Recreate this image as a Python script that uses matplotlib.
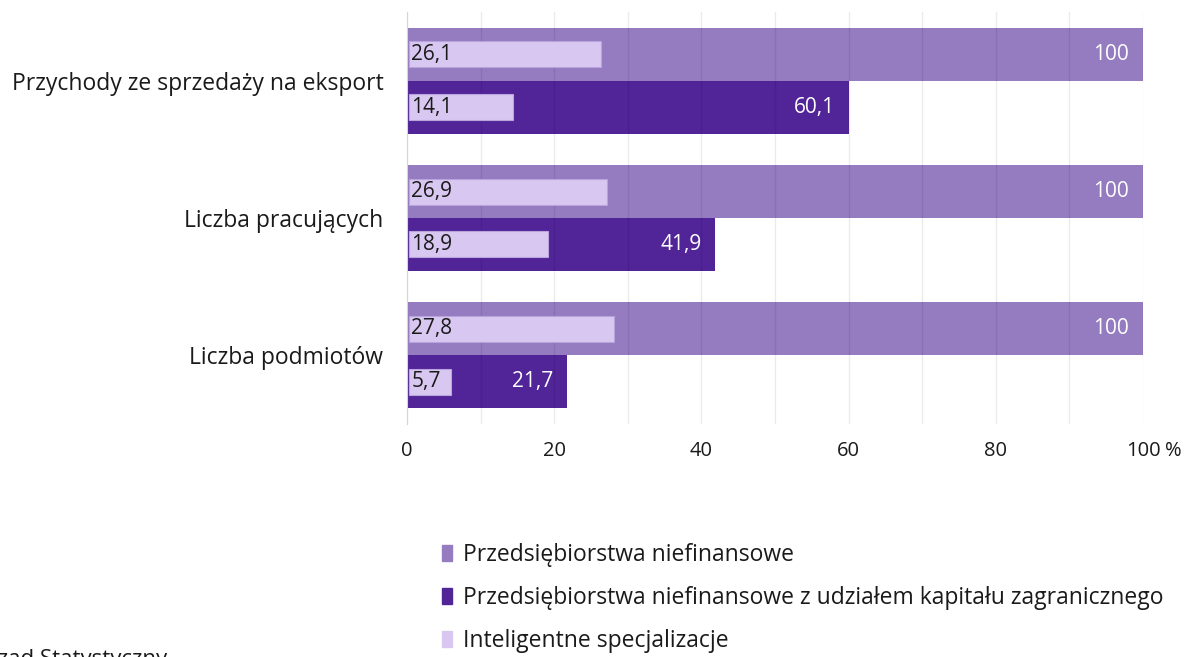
import matplotlib
matplotlib.use("Agg")
import matplotlib.pyplot as plt
from matplotlib.patches import Patch
import numpy as np

plt.rcParams["font.family"] = ["Open Sans", "DejaVu Sans"]

# data
categories = ["Przychody ze sprzedaży na eksport", "Liczba pracujących", "Liczba podmiotów"]
niefinansowe = [100, 100, 100]
zagraniczne = [60.1, 41.9, 21.7]
intel_niefinansowe = [26.1, 26.9, 27.8]
intel_zagraniczne = [14.1, 18.9, 5.7]
x_ticks = [0, 20, 40, 60, 80, 100]
legend_labels = [
    "Przedsiębiorstwa niefinansowe",
    "Przedsiębiorstwa niefinansowe z udziałem kapitału zagranicznego",
    "Inteligentne specjalizacje",
]

C_MID = "#957bc0"
C_DARK = "#512498"
C_LIGHT = "#d8c8f1"
C_LIGHT_EDGE = "#b9a3dc"
TXT = "#1a1a1a"


def fmt(v):
    return f"{v:g}".replace(".", ",")


fig = plt.figure(figsize=(11.89, 6.57), dpi=100)
W, H = 1189, 657
ax = fig.add_axes([407 / W, 1 - 424 / H, (1143 - 407) / W, (424 - 12) / H])

y = np.arange(len(categories))
off = 0.1925
bh = 0.385
lh = 0.19

ax.barh(y - off, niefinansowe, height=bh, color=C_MID, zorder=1)
ax.barh(y + off, zagraniczne, height=bh, color=C_DARK, zorder=1)
ax.barh(y - off, intel_niefinansowe, height=lh, left=0.3, color=C_LIGHT,
        edgecolor=C_LIGHT_EDGE, linewidth=0.8, zorder=3)
ax.barh(y + off, intel_zagraniczne, height=lh, left=0.3, color=C_LIGHT,
        edgecolor=C_LIGHT_EDGE, linewidth=0.8, zorder=3)

for i in range(len(categories)):
    ax.annotate(fmt(niefinansowe[i]), (niefinansowe[i], y[i] - off), xytext=(-10, 0),
                textcoords="offset points", ha="right", va="center",
                color="white", fontsize=15, zorder=4)
    ax.annotate(fmt(zagraniczne[i]), (zagraniczne[i], y[i] + off), xytext=(-10, 0),
                textcoords="offset points", ha="right", va="center",
                color="white", fontsize=15, zorder=4)
    ax.annotate(fmt(intel_niefinansowe[i]), (0, y[i] - off), xytext=(3, 0),
                textcoords="offset points", ha="left", va="center",
                color=TXT, fontsize=15, zorder=4)
    ax.annotate(fmt(intel_zagraniczne[i]), (0, y[i] + off), xytext=(3, 0),
                textcoords="offset points", ha="left", va="center",
                color=TXT, fontsize=15, zorder=4)

ax.set_xlim(0, 100)
ax.set_ylim(2.5, -0.5)
ax.set_xticks(x_ticks)
ax.set_xticklabels([str(t) for t in x_ticks])
ax.set_xticks(np.arange(10, 100, 20), minor=True)
ax.set_yticks(y)
ax.set_yticklabels(categories)
ax.tick_params(axis="x", which="both", length=0, pad=12, labelsize=14.5, colors=TXT)
ax.tick_params(axis="y", length=0, pad=17, labelsize=16.5, colors=TXT)
ax.annotate("%", (100, 0), xycoords=("data", "axes fraction"), xytext=(16, -12),
            textcoords="offset points", ha="left", va="top", fontsize=14.5, color=TXT)

ax.grid(axis="x", which="both", color="black", alpha=0.08, linewidth=1, zorder=2)
ax.set_axisbelow(False)
for s in ["top", "right", "bottom"]:
    ax.spines[s].set_visible(False)
ax.spines["left"].set_color("#d4d4d4")
ax.spines["left"].set_zorder(5)

handles = [Patch(color=C_MID), Patch(color=C_DARK), Patch(color=C_LIGHT)]
fig.legend(handles, legend_labels, loc="upper left", bbox_to_anchor=(433 / W, 1 - 534 / H),
           frameon=False, fontsize=16.5, handlelength=0.45, handleheight=0.7,
           handletextpad=0.45, labelspacing=0.82, borderaxespad=0, labelcolor=TXT)

fig.text(167 / W, 1 - 644 / H, "Źródło: Główny Urząd Statystyczny", ha="right", va="top",
         fontsize=16, color=TXT)

fig.savefig("out.png", dpi=100)
